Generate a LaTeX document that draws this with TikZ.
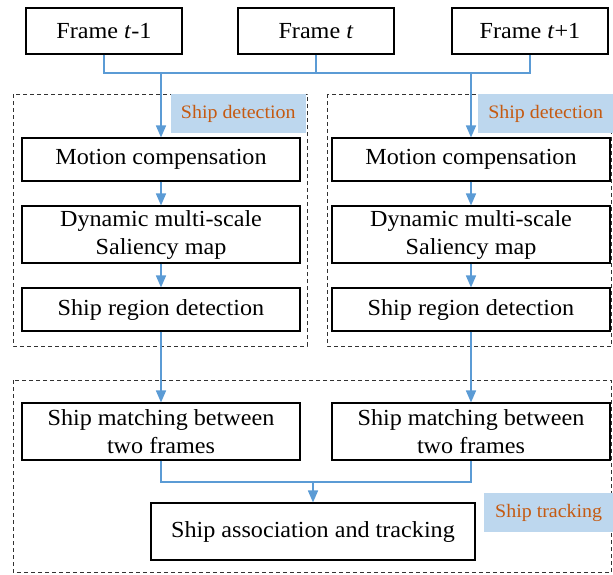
\documentclass[tikz,border=0pt]{standalone}
\usepackage{fontspec}
\setmainfont{Liberation Serif}[FakeStretch=1.05]
\usepackage{xcolor}
\usepackage{tikz}
\usetikzlibrary{arrows.meta, positioning, calc}
\definecolor{FlowBlue}{RGB}{91, 155, 213}
\definecolor{TagFill}{RGB}{189, 215, 238}
\definecolor{TagText}{RGB}{197, 90, 17}
\definecolor{GroupGray}{RGB}{50, 50, 50}

\begin{document}
\begin{tikzpicture}[x=1pt, y=-1pt,
  box/.style={draw=black, fill=white, line width=1.1pt,
    minimum width=278pt, minimum height=43pt, inner sep=0pt,
    align=center, font=\fontsize{23}{28}\selectfont},
  framebox/.style={box, minimum width=156pt, minimum height=46pt},
  tallbox/.style={box, minimum height=57pt},
  grp/.style={draw=GroupGray, dash pattern=on 4pt off 3pt, line width=1pt},
  tag/.style={fill=TagFill, inner sep=0pt, minimum height=39pt,
    font=\fontsize{19}{21}\selectfont\color{TagText}},
  wire/.style={FlowBlue, line width=1.6pt},
  arr/.style={-{Triangle[length=12pt, width=10pt]}, FlowBlue, line width=1.6pt}
]
\useasboundingbox (0,0) rectangle (613,574);

% dashed groups
\draw[grp] (13,94) rectangle (307,346);
\draw[grp] (327,94) rectangle (611.5,346);
\draw[grp] (13,380) rectangle (611.5,572);
\node[tag, minimum width=135pt, anchor=north east] (tagA) at (306,94) {Ship detection};
\node[tag, minimum width=135pt, anchor=north west] (tagB) at (478,94) {Ship detection};
\node[tag, minimum width=129pt, anchor=north west] (tagC) at (484,493) {Ship tracking};

% frames
\node[framebox] (prev) at (104,31) {Frame \textit{t}-1};
\node[framebox] (cur) at (316,31) {Frame \textit{t}};
\node[framebox] (next) at (530,31) {Frame \textit{t}+1};

% detection, left and right
\node[box] (mcA) at (161,159.5) {Motion compensation};
\node[tallbox] (dmA) at (161,234.5) {Dynamic multi-scale\\Saliency map};
\node[box] (srA) at (161,309.5) {Ship region detection};
\node[box] (mcB) at (471,159.5) {Motion compensation};
\node[tallbox] (dmB) at (471,234.5) {Dynamic multi-scale\\Saliency map};
\node[box] (srB) at (471,309.5) {Ship region detection};

% tracking
\node[tallbox] (smA) at (161,431.5) {Ship matching between\\two frames};
\node[tallbox] (smB) at (471,431.5) {Ship matching between\\two frames};
\node[tallbox, minimum width=324pt] (assoc) at (313,531.5) {Ship association and tracking};

\coordinate (bus) at (316,73);
\coordinate (join) at (313,482);

\draw[wire] (prev.south) |- (bus) -| (next.south);
\draw[wire] (cur.south) -- (bus);
\draw[arr] (mcA |- bus) -- (mcA.north);
\draw[arr] (mcB |- bus) -- (mcB.north);
\draw[arr] (mcA) -- (dmA);
\draw[arr] (dmA) -- (srA);
\draw[arr] (mcB) -- (dmB);
\draw[arr] (dmB) -- (srB);
\draw[arr] (srA) -- (smA);
\draw[arr] (srB) -- (smB);
\draw[wire] (smA.south) |- (join) -| (smB.south);
\draw[arr] (join) -- (assoc.north);
\end{tikzpicture}
\end{document}
